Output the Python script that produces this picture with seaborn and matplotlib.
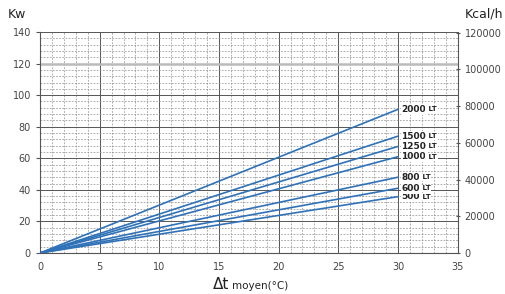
import matplotlib
matplotlib.use("Agg")
import matplotlib.pyplot as plt
import seaborn as sns
import pandas as pd
from matplotlib.ticker import MultipleLocator

capacities = ["500", "600", "800", "1000", "1250", "1500", "2000"]
dt_points = [0, 30]
kw_at_30 = [35.7, 41.0, 48.0, 61.0, 67.5, 74.0, 91.0]
x_ticks = [0, 5, 10, 15, 20, 25, 30, 35]
y_ticks = [0, 20, 40, 60, 80, 100, 120, 140]
kcal_ticks = [0, 20000, 40000, 60000, 80000, 100000, 120000]

rows = []
for cap, v in zip(capacities, kw_at_30):
    for x in dt_points:
        rows.append({"dt": x, "kw": v * x / 30, "cap": cap})
df = pd.DataFrame(rows)

sns.set_style("white")
plt.rcParams['font.family'] = ['DejaVu Sans']

fig = plt.figure(figsize=(5.06, 2.94), dpi=100)
ax = fig.add_axes([40/506, 41/294, 417.6/506, 221/294])

line_color = "#2f72b8"
sns.lineplot(data=df, x="dt", y="kw", hue="cap", palette=[line_color]*len(capacities),
             legend=False, ax=ax, linewidth=1.2, zorder=3)

ax.set_xlim(0, 35)
ax.set_ylim(0, 140)
ax.set_xticks(x_ticks)
ax.set_yticks(y_ticks)
ax.xaxis.set_minor_locator(MultipleLocator(1))
ax.yaxis.set_minor_locator(MultipleLocator(4))
ax.grid(which="major", color="#555555", linewidth=0.7, linestyle="-", zorder=0)
ax.grid(which="minor", color="#8c8c8c", linewidth=0.5, linestyle=(0, (2.5, 2)), zorder=0)
ax.axhline(120, color="#bbbbbb", linewidth=1.8, zorder=1)
for s in ax.spines.values():
    s.set_visible(False)
ax.spines["left"].set_visible(True)
ax.spines["left"].set_color("#555555")
ax.spines["left"].set_linewidth(0.8)
ax.spines["bottom"].set_visible(True)
ax.spines["bottom"].set_color("#555555")
ax.tick_params(axis="both", which="major", labelsize=7, labelcolor="#444444", length=3, color="#555555")
ax.tick_params(axis="both", which="minor", length=0)
ax.set_xlabel("")
ax.set_ylabel("")

ax2 = ax.twinx()
ax2.set_ylim(0, 140 * 860)
ax2.set_yticks(kcal_ticks)
for s in ax2.spines.values():
    s.set_visible(False)
ax2.spines["right"].set_visible(True)
ax2.spines["right"].set_color("#555555")
ax2.spines["right"].set_linewidth(0.8)
ax2.tick_params(axis="y", labelsize=7, labelcolor="#444444", length=3, color="#555555", direction="inout")

for cap, v in zip(capacities, kw_at_30):
    t = ax.annotate(cap, xy=(30.3, v), xycoords="data", fontsize=6.5, fontweight="bold",
                    color="#222222", va="center", ha="left", zorder=5,
                    bbox=dict(boxstyle="square,pad=0.1", fc="white", ec="none"))
    ax.annotate(" LT", xy=(1, 0.5), xycoords=t, fontsize=5, fontweight="bold",
                color="#222222", va="center", ha="left", zorder=5,
                bbox=dict(boxstyle="square,pad=0.1", fc="white", ec="none"))

fig.text(8/506, 1 - 14/294, "Kw", fontsize=9, color="#222222", va="center", ha="left")
fig.text(503/506, 1 - 14/294, "Kcal/h", fontsize=9, color="#222222", va="center", ha="right")
fig.text(229/506, 1 - 289/294, "Δt", fontsize=11, color="#222222", va="baseline", ha="right")
fig.text(232/506, 1 - 289/294, "moyen(°C)", fontsize=7.5, color="#222222", va="baseline", ha="left")

fig.savefig("out.png", dpi=100)
